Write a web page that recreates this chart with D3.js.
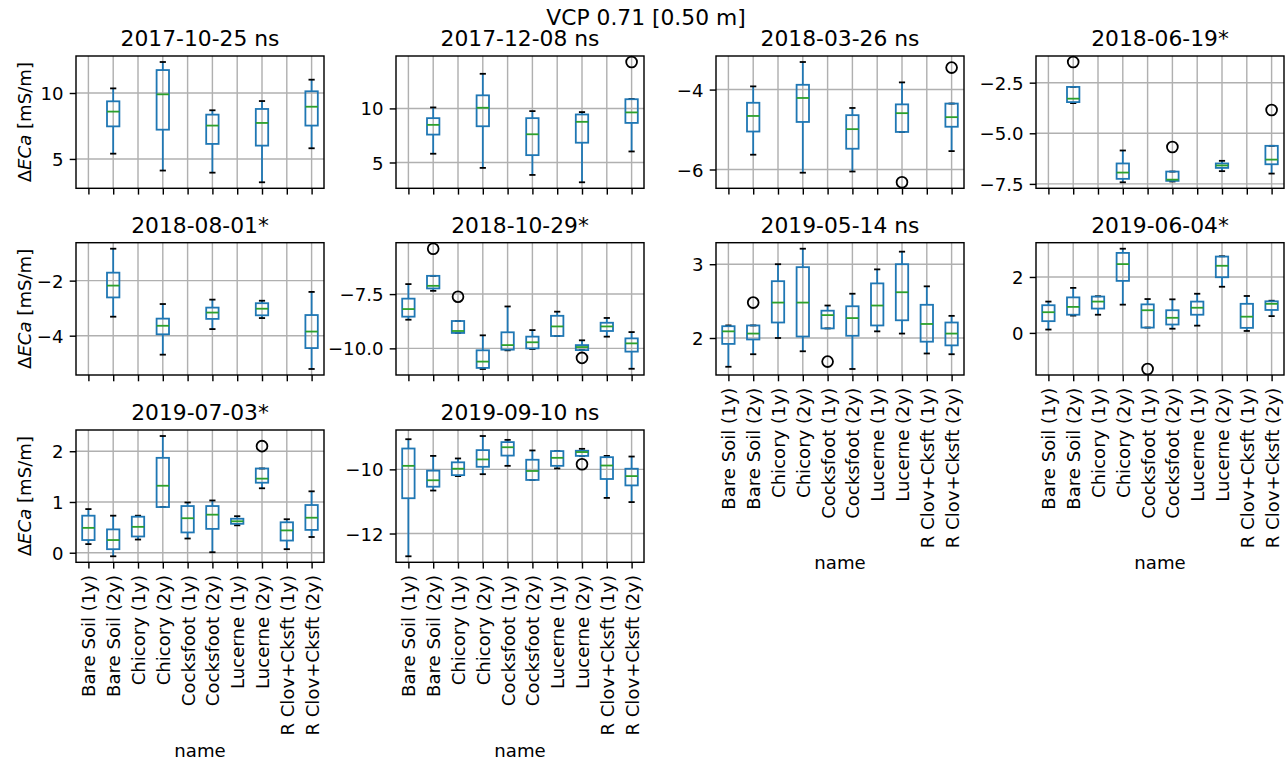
<!DOCTYPE html>
<html>
<head>
<meta charset="utf-8">
<script src="https://cdn.jsdelivr.net/npm/d3@7"></script>
<style>
body { margin: 0; background: #fff; }
text { font-family: "DejaVu Sans", sans-serif; fill: #000; }
</style>
</head>
<body>
<svg id="fig" width="1288" height="764"></svg>
<script>
var suptitle = "VCP 0.71 [0.50 m]";
var categories = ["Bare Soil (1y)", "Bare Soil (2y)", "Chicory (1y)", "Chicory (2y)",
	"Cocksfoot (1y)", "Cocksfoot (2y)", "Lucerne (1y)", "Lucerne (2y)",
	"R Clov+Cksft (1y)", "R Clov+Cksft (2y)"];
var titles = ["2017-10-25 ns", "2017-12-08 ns", "2018-03-26 ns", "2018-06-19*",
	"2018-08-01*", "2018-10-29*", "2019-05-14 ns", "2019-06-04*",
	"2019-07-03*", "2019-09-10 ns"];

// one entry per category: [low whisker, q1, median, q3, high whisker, [fliers]]
var box20171025 = [null, [5.40, 7.47, 8.59, 9.37, 10.35, []], null, [4.12, 7.22, 9.9, 11.74, 12.35, []],
	null, [3.96, 6.14, 7.53, 8.36, 8.69, []], null, [3.23, 6.01, 7.73, 8.79, 9.39, []],
	null, [5.81, 7.53, 8.96, 10.13, 11.01, []]];
var box20171208 = [null, [5.81, 7.58, 8.48, 9.1, 10.09, []], null, [4.5, 8.35, 10.06, 11.21, 13.2, []],
	null, [3.85, 5.68, 7.61, 9.1, 9.75, []], null, [3.17, 6.83, 8.76, 9.44, 9.66, []],
	null, [6.02, 8.66, 9.63, 10.85, 10.87, [14.29]]];
var box20180326 = [null, [-5.63, -5.05, -4.66, -4.33, -3.92, []], null, [-6.08, -4.81, -4.21, -3.88, -3.31, []],
	null, [-6.05, -5.48, -4.99, -4.64, -4.46, []], null, [-5.06, -5.06, -4.59, -4.37, -3.82, [-6.32]],
	null, [-5.54, -4.93, -4.69, -4.35, -4.35, [-3.45]]];
var box20180619 = [null, [-3.51, -3.46, -3.29, -2.71, -2.71, [-1.48]], null, [-7.42, -7.25, -6.94, -6.49, -5.85, []],
	null, [-7.38, -7.35, -7.29, -6.89, -6.89, [-5.68]], null, [-6.87, -6.71, -6.59, -6.49, -6.36, []],
	null, [-6.99, -6.53, -6.3, -5.62, -5.62, [-3.85]]];
var box20180801 = [null, [-3.31, -2.61, -2.18, -1.71, -0.84, []], null, [-4.69, -3.95, -3.64, -3.38, -2.85, []],
	null, [-3.76, -3.39, -3.16, -2.98, -2.69, []], null, [-3.36, -3.26, -3.02, -2.82, -2.73, []],
	null, [-5.21, -4.45, -3.85, -3.25, -2.41, []]];
var box20181029 = [
	[-8.68, -8.54, -8.19, -7.71, -7.04, []],
	[-7.35, -7.24, -7.12, -6.66, -6.66, [-5.41]],
	[-9.29, -9.29, -9.2, -8.74, -8.74, [-7.62]],
	[-10.95, -10.9, -10.61, -10.09, -9.4, []],
	[-10.09, -10.06, -9.85, -9.26, -8.07, []],
	[-10.03, -10.0, -9.72, -9.46, -9.16, []],
	[-9.43, -9.43, -8.99, -8.5, -8.31, []],
	[-10.08, -10.08, -9.94, -9.85, -9.63, [-10.44]],
	[-9.46, -9.2, -8.99, -8.82, -8.6, []],
	[-10.94, -10.15, -9.77, -9.54, -9.25, []]];
var box20190514 = [
	[1.61, 1.92, 2.09, 2.16, 2.17, []],
	[1.78, 1.98, 2.06, 2.17, 2.17, [2.48]],
	[2.0, 2.21, 2.48, 2.77, 3.0, []],
	[1.82, 2.02, 2.48, 2.96, 3.21, []],
	[2.13, 2.13, 2.31, 2.37, 2.44, [1.68]],
	[1.58, 2.03, 2.27, 2.43, 2.6, []],
	[2.09, 2.17, 2.44, 2.74, 2.93, []],
	[2.06, 2.24, 2.62, 3.0, 3.17, []],
	[1.79, 1.95, 2.19, 2.45, 2.7, []],
	[1.78, 1.9, 2.06, 2.21, 2.3, []]];
var box20190604 = [
	[0.12, 0.42, 0.74, 0.99, 1.12, []],
	[0.62, 0.65, 0.93, 1.27, 1.61, []],
	[0.65, 0.87, 1.12, 1.3, 1.31, []],
	[1.01, 1.86, 2.46, 2.86, 3.01, []],
	[0.19, 0.19, 0.81, 1.02, 1.21, [-1.29]],
	[0.15, 0.3, 0.54, 0.81, 1.2, []],
	[0.26, 0.65, 0.9, 1.12, 1.4, []],
	[1.65, 1.99, 2.4, 2.73, 2.74, []],
	[0.07, 0.18, 0.58, 1.04, 1.32, []],
	[0.6, 0.82, 1.04, 1.13, 1.15, []]];
var box20190703 = [
	[0.17, 0.25, 0.49, 0.73, 0.86, []],
	[-0.07, 0.07, 0.25, 0.46, 0.73, []],
	[0.26, 0.32, 0.51, 0.71, 0.73, []],
	[0.9, 0.9, 1.32, 1.87, 2.3, []],
	[0.28, 0.4, 0.68, 0.92, 0.99, []],
	[0.01, 0.47, 0.75, 0.92, 1.03, []],
	[0.54, 0.57, 0.62, 0.67, 0.72, []],
	[1.27, 1.38, 1.46, 1.66, 1.66, [2.1]],
	[0.07, 0.24, 0.44, 0.6, 0.66, []],
	[0.31, 0.45, 0.69, 0.94, 1.21, []]];
var box20190910 = [
	[-12.71, -10.9, -9.89, -9.35, -9.06, []],
	[-10.66, -10.54, -10.34, -10.04, -9.58, []],
	[-10.21, -10.18, -9.98, -9.78, -9.66, []],
	[-10.15, -9.92, -9.69, -9.4, -8.96, []],
	[-9.89, -9.57, -9.31, -9.15, -9.08, []],
	[-10.33, -10.33, -10.05, -9.7, -9.41, []],
	[-9.97, -9.89, -9.64, -9.43, -9.43, []],
	[-9.58, -9.58, -9.46, -9.42, -9.36, [-9.84]],
	[-10.89, -10.3, -9.88, -9.62, -9.58, []],
	[-11.02, -10.5, -10.21, -9.98, -9.6, []]];

var yTicks = [[5, 10], [5, 10], [-6, -4], [-7.5, -5, -2.5], [-4, -2],
	[-10, -7.5], [2, 3], [0, 2], [0, 1, 2], [-12, -10]];

var panels = [box20171025, box20171208, box20180326, box20180619, box20180801,
	box20181029, box20190514, box20190604, box20190703, box20190910];

// layout (px)
var colX = [76, 396, 716, 1036];
var rowY = [56, 242.7, 430];
var aw = 248, ah = 132.3;
var tickLen = 6.3, tickPad = 6.3;
var lw = 1.8, thin = 1.43;
var fsTick = "18.1px", fsTitle = "21.8px";
var blue = "#1f77b4", green = "#2ca02c", gridColor = "#b0b0b0";
var withLabels = [6, 7, 8, 9];

var svg = d3.select("#fig");
svg.append("rect").attr("width", 1288).attr("height", 764).attr("fill", "#fff");

svg.append("text")
	.attr("x", 646).attr("y", 25)
	.attr("text-anchor", "middle")
	.style("font-size", fsTitle)
	.text(suptitle);

panels.forEach(function(boxes, i) {
	var r = Math.floor(i / 4), c = i % 4;
	var g = svg.append("g").attr("transform", "translate(" + colX[c] + "," + rowY[r] + ")");

	var vals = [];
	boxes.forEach(function(b) {
		if (!b) return;
		vals.push(b[0], b[4]);
		b[5].forEach(function(v) { vals.push(v); });
	});
	var ext = d3.extent(vals);
	var pad = (ext[1] - ext[0]) * 0.05;
	var y = d3.scaleLinear().domain([ext[0] - pad, ext[1] + pad]).range([ah, 0]);
	var x = d3.scaleLinear().domain([0.5, 10.5]).range([0, aw]);
	var pos = d3.range(1, 11);

	// grid
	g.selectAll(".gx").data(pos).enter().append("line")
		.attr("x1", function(d) { return x(d); }).attr("x2", function(d) { return x(d); })
		.attr("y1", 0).attr("y2", ah)
		.attr("stroke", gridColor).attr("stroke-width", thin);
	g.selectAll(".gy").data(yTicks[i]).enter().append("line")
		.attr("x1", 0).attr("x2", aw)
		.attr("y1", function(d) { return y(d); }).attr("y2", function(d) { return y(d); })
		.attr("stroke", gridColor).attr("stroke-width", thin);

	// boxes
	boxes.forEach(function(b, k) {
		if (!b) return;
		var cx = x(k + 1);
		var hw = (x(1.25) - x(1));
		var cw = hw / 2;
		var bg = g.append("g");
		bg.append("line").attr("x1", cx).attr("x2", cx).attr("y1", y(b[1])).attr("y2", y(b[0]))
			.attr("stroke", blue).attr("stroke-width", lw);
		bg.append("line").attr("x1", cx).attr("x2", cx).attr("y1", y(b[3])).attr("y2", y(b[4]))
			.attr("stroke", blue).attr("stroke-width", lw);
		[b[0], b[4]].forEach(function(v) {
			bg.append("line").attr("x1", cx - cw).attr("x2", cx + cw).attr("y1", y(v)).attr("y2", y(v))
				.attr("stroke", "#000").attr("stroke-width", lw);
		});
		bg.append("rect").attr("x", cx - hw).attr("width", 2 * hw)
			.attr("y", y(b[3])).attr("height", Math.max(0, y(b[1]) - y(b[3])))
			.attr("fill", "none").attr("stroke", blue).attr("stroke-width", lw);
		bg.append("line").attr("x1", cx - hw).attr("x2", cx + hw).attr("y1", y(b[2])).attr("y2", y(b[2]))
			.attr("stroke", green).attr("stroke-width", lw);
		b[5].forEach(function(v) {
			bg.append("circle").attr("cx", cx).attr("cy", y(v)).attr("r", 5.4)
				.attr("fill", "none").attr("stroke", "#000").attr("stroke-width", lw);
		});
	});

	// spines
	g.append("rect").attr("width", aw).attr("height", ah)
		.attr("fill", "none").attr("stroke", "#000").attr("stroke-width", thin);

	// y axis
	var fmt = yTicks[i].some(function(t) { return t % 1 !== 0; }) ? d3.format(".1f") : d3.format("d");
	var ya = g.append("g").call(d3.axisLeft(y).tickValues(yTicks[i]).tickSize(tickLen)
		.tickPadding(tickPad).tickFormat(fmt));
	ya.select(".domain").remove();
	ya.attr("font-size", null).attr("font-family", null);
	ya.selectAll("line").attr("stroke", "#000").attr("stroke-width", thin);
	ya.selectAll("text").style("font-size", fsTick).attr("dy", "0.36em");

	// x axis
	var showLab = withLabels.indexOf(i) >= 0;
	var xa = g.append("g").attr("transform", "translate(0," + ah + ")")
		.call(d3.axisBottom(x).tickValues(pos).tickSize(tickLen)
			.tickFormat(function(d) { return showLab ? categories[d - 1] : ""; }));
	xa.select(".domain").remove();
	xa.attr("font-size", null).attr("font-family", null);
	xa.selectAll("line").attr("stroke", "#000").attr("stroke-width", thin);
	xa.selectAll("text")
		.style("font-size", fsTick)
		.attr("transform", "rotate(-90)")
		.attr("x", -(tickLen + tickPad)).attr("y", 0).attr("dy", "0.36em")
		.style("text-anchor", "end");

	if (showLab) {
		var L = 0;
		xa.selectAll("text").each(function() { L = Math.max(L, this.getComputedTextLength()); });
		g.append("text")
			.attr("x", aw / 2).attr("y", ah + tickLen + tickPad + L + 7 + 14)
			.attr("text-anchor", "middle")
			.style("font-size", fsTick)
			.text("name");
	}

	// title
	g.append("text")
		.attr("x", aw / 2).attr("y", -10)
		.attr("text-anchor", "middle")
		.style("font-size", fsTitle)
		.text(titles[i]);

	// y label on the first column
	if (c === 0) {
		var yl = g.append("text")
			.attr("transform", "translate(-45," + (ah / 2) + ") rotate(-90)")
			.attr("text-anchor", "middle")
			.style("font-size", fsTick);
		yl.append("tspan").text("\u0394");
		yl.append("tspan").style("font-style", "italic").text("ECa");
		yl.append("tspan").text(" [mS/m]");
	}
});
</script>
</body>
</html>
